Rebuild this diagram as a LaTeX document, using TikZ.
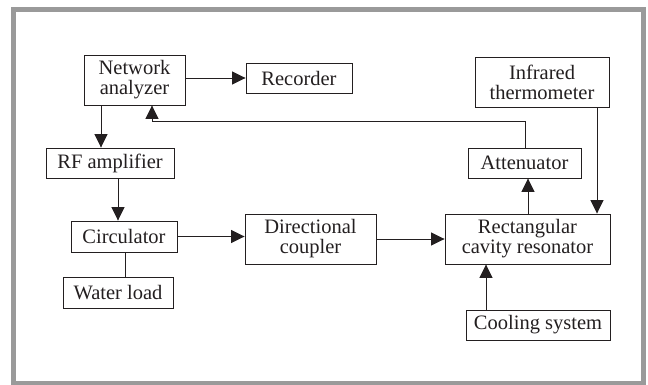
\documentclass[tikz,border=0pt]{standalone}
\usepackage{fontspec}
\setmainfont{Liberation Serif}
\usetikzlibrary{arrows.meta}
\definecolor{ink}{HTML}{231F20}
\definecolor{framegray}{HTML}{9A9A9A}
\tikzset{
  blk/.style={draw=ink, line width=0.9pt, text=ink, inner sep=0pt, align=center,
    font=\fontsize{20.5}{20}\selectfont},
  arr/.style={draw=ink, line width=0.9pt, -{Triangle[length=13.5pt,width=13pt]}},
  ln/.style={draw=ink, line width=0.9pt}
}
\begin{document}
\begin{tikzpicture}[x=1pt,y=-1pt]
\useasboundingbox (0,0) rectangle (648,385);
\draw[framegray, line width=5pt] (13.5,9.5) rectangle (643.5,383.5);

\node[blk, minimum width=101pt, minimum height=50pt] (na) at (134.5,80) {Network\\analyzer};
\node[blk, minimum width=106pt, minimum height=30pt] (rec) at (299,78) {Recorder};
\node[blk, minimum width=134pt, minimum height=50pt] (ir) at (542,82) {Infrared\\thermometer};
\node[blk, minimum width=113pt, minimum height=30pt] (att) at (524.5,163) {Attenuator};
\node[blk, minimum width=128pt, minimum height=30pt] (rf) at (110,163) {RF amplifier};
\node[blk, minimum width=106pt, minimum height=31pt] (circ) at (124,236.5) {Circulator};
\node[blk, minimum width=110pt, minimum height=31pt] (wl) at (118,292.5) {Water load};
\node[blk, minimum width=131pt, minimum height=50pt] (dc) at (310.5,239) {Directional\\coupler};
\node[blk, minimum width=165pt, minimum height=50pt] (rcr) at (527.5,239) {Rectangular\\cavity resonator};
\node[blk, minimum width=144pt, minimum height=30pt] (cool) at (538,325) {Cooling system};

\coordinate (fbR) at (525,121);
\coordinate (fbL) at (152,121);

\draw[arr] (na.east |- rec.west) -- (rec.west);
\draw[arr] ([xshift=-33.5pt]na.south) -- ([xshift=-33.5pt]na.south |- rf.north);
\draw[arr] ([xshift=8pt]rf.south) -- ([xshift=8pt]rf.south |- circ.north);
\draw[ln] ([xshift=1pt]circ.south) -- ([xshift=1pt]circ.south |- wl.north);
\draw[arr] (circ.east) -- (circ.east -| dc.west);
\draw[arr] (dc.east) -- (rcr.west);
\draw[arr] ([xshift=0.5pt]rcr.north) -- ([xshift=0.5pt]rcr.north |- att.south);
\draw[arr] (att.north -| fbR) -- (fbR) -- (fbL) -- (fbL |- na.south);
\draw[arr] ([xshift=55pt]ir.south) -- ([xshift=55pt]ir.south |- rcr.north);
\draw[arr] ([xshift=-52pt]cool.north) -- ([xshift=-52pt]cool.north |- rcr.south);
\end{tikzpicture}
\end{document}
